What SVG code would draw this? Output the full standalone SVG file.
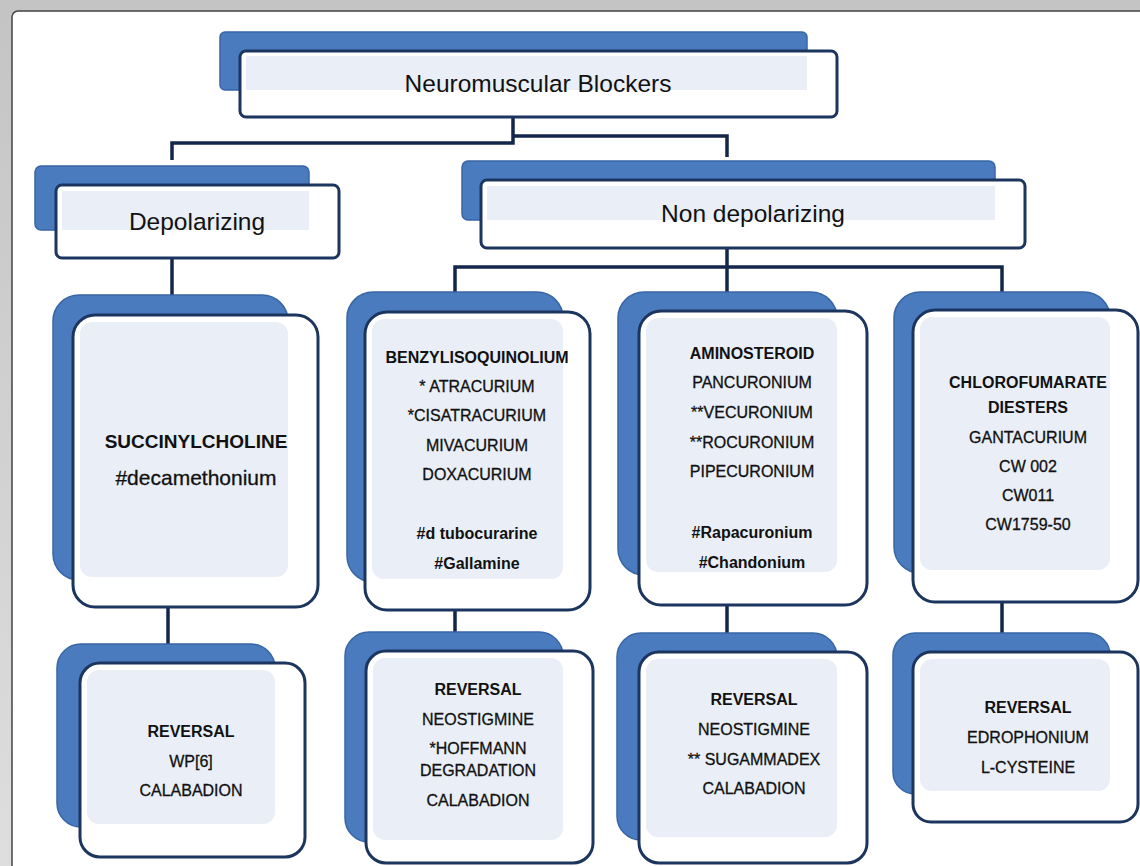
<svg xmlns="http://www.w3.org/2000/svg" width="1140" height="866" viewBox="0 0 1140 866">
<defs>
<linearGradient id="bg" x1="0" y1="0" x2="0" y2="1">
<stop offset="0" stop-color="#c4c4c4"/><stop offset="1" stop-color="#dedede"/>
</linearGradient>
<style>
.back{fill:#4a7bbf;stroke:#3866a5;stroke-width:1.5}
.front{fill:#ffffff;stroke:#1c355e;stroke-width:3}
.tint{fill:#e9eef7}
.conn{stroke:#14264a;stroke-width:3.5;fill:none}
.big{font-family:"Liberation Sans",Arial,sans-serif;font-size:24.5px;fill:#111;text-anchor:middle}
.h{font-family:"Liberation Sans",Arial,sans-serif;font-size:16px;font-weight:bold;fill:#111;text-anchor:middle}
.t{font-family:"Liberation Sans",Arial,sans-serif;font-size:16px;fill:#111;stroke:#111;stroke-width:0.3;text-anchor:middle}
</style>
</defs>
<rect x="0" y="0" width="1140" height="866" fill="url(#bg)"/>
<rect x="12" y="11" width="1160" height="880" rx="6" fill="#ffffff" stroke="#444" stroke-width="1.5"/>

<g id="connectors">
<path class="conn" d="M513 117 V143 H172 V160"/>
<path class="conn" d="M513 136 H727 V157"/>
<path class="conn" d="M172 258 V296"/>
<path class="conn" d="M727 248 V292"/>
<path class="conn" d="M455 292 V267 H1002 V292"/>
<path class="conn" d="M168 607 V645"/>
<path class="conn" d="M455 610 V633"/>
<path class="conn" d="M727 605 V634"/>
<path class="conn" d="M1002 602 V634"/>
</g>

<g id="root">
<rect class="back" x="220" y="32" width="587" height="58" rx="5"/>
<rect class="front" x="240" y="51" width="597" height="66" rx="6"/>
<rect class="tint" x="246" y="56" width="561" height="34"/>
<text class="big" x="538" y="92">Neuromuscular Blockers</text>
</g>

<g id="depolarizing">
<rect class="back" x="35" y="166" width="274" height="64" rx="6"/>
<rect class="front" x="56" y="185" width="283" height="73" rx="6"/>
<rect class="tint" x="62" y="191" width="247" height="39"/>
<text class="big" x="197" y="230">Depolarizing</text>
</g>

<g id="nondepolarizing">
<rect class="back" x="462" y="161" width="533" height="59" rx="6"/>
<rect class="front" x="481" y="180" width="544" height="68" rx="6"/>
<rect class="tint" x="487" y="186" width="508" height="34"/>
<text class="big" x="753" y="222">Non depolarizing</text>
</g>

<g id="succinylcholine">
<rect class="back" x="53" y="295" width="235" height="285" rx="26"/>
<rect class="front" x="73" y="315" width="245" height="292" rx="22"/>
<rect class="tint" x="80" y="322" width="208" height="255" rx="12"/>
<text class="h" x="196" y="448" style="font-size:19px">SUCCINYLCHOLINE</text>
<text class="t" x="196" y="485" style="font-size:21px">#decamethonium</text>
</g>

<g id="benzylisoquinolium">
<rect class="back" x="347" y="292" width="216" height="290" rx="26"/>
<rect class="front" x="365" y="312" width="225" height="298" rx="22"/>
<rect class="tint" x="372" y="319" width="191" height="260" rx="12"/>
<text class="h" x="477" y="363">BENZYLISOQUINOLIUM</text>
<text class="t" x="477" y="392">* ATRACURIUM</text>
<text class="t" x="477" y="421">*CISATRACURIUM</text>
<text class="t" x="477" y="451">MIVACURIUM</text>
<text class="t" x="477" y="480">DOXACURIUM</text>
<text class="h" x="477" y="539">#d tubocurarine</text>
<text class="h" x="477" y="569">#Gallamine</text>
</g>

<g id="aminosteroid">
<rect class="back" x="618" y="292" width="219" height="283" rx="26"/>
<rect class="front" x="639" y="311" width="228" height="294" rx="22"/>
<rect class="tint" x="646" y="318" width="191" height="254" rx="12"/>
<text class="h" x="752" y="359">AMINOSTEROID</text>
<text class="t" x="752" y="388">PANCURONIUM</text>
<text class="t" x="752" y="418">**VECURONIUM</text>
<text class="t" x="752" y="448">**ROCURONIUM</text>
<text class="t" x="752" y="477">PIPECURONIUM</text>
<text class="h" x="752" y="538">#Rapacuronium</text>
<text class="h" x="752" y="568">#Chandonium</text>
</g>

<g id="chlorofumarate">
<rect class="back" x="894" y="292" width="216" height="281" rx="26"/>
<rect class="front" x="913" y="310" width="225" height="292" rx="22"/>
<rect class="tint" x="920" y="317" width="190" height="253" rx="12"/>
<text class="h" x="1028" y="388">CHLOROFUMARATE</text>
<text class="h" x="1028" y="413">DIESTERS</text>
<text class="t" x="1028" y="443">GANTACURIUM</text>
<text class="t" x="1028" y="472">CW 002</text>
<text class="t" x="1028" y="501">CW011</text>
<text class="t" x="1028" y="530">CW1759-50</text>
</g>

<g id="reversal-depolarizing">
<rect class="back" x="57" y="644" width="218" height="183" rx="24"/>
<rect class="front" x="80" y="663" width="225" height="194" rx="20"/>
<rect class="tint" x="87" y="670" width="188" height="154" rx="12"/>
<text class="h" x="191" y="737">REVERSAL</text>
<text class="t" x="191" y="767">WP[6]</text>
<text class="t" x="191" y="796">CALABADION</text>
</g>

<g id="reversal-benzylisoquinolium">
<rect class="back" x="345" y="632" width="218" height="210" rx="24"/>
<rect class="front" x="366" y="651" width="227" height="212" rx="20"/>
<rect class="tint" x="373" y="658" width="190" height="182" rx="12"/>
<text class="h" x="478" y="695">REVERSAL</text>
<text class="t" x="478" y="725">NEOSTIGMINE</text>
<text class="t" x="478" y="754">*HOFFMANN</text>
<text class="t" x="478" y="776">DEGRADATION</text>
<text class="t" x="478" y="806">CALABADION</text>
</g>

<g id="reversal-aminosteroid">
<rect class="back" x="617" y="633" width="220" height="207" rx="24"/>
<rect class="front" x="639" y="652" width="228" height="211" rx="20"/>
<rect class="tint" x="646" y="659" width="191" height="178" rx="12"/>
<text class="h" x="754" y="705">REVERSAL</text>
<text class="t" x="754" y="735">NEOSTIGMINE</text>
<text class="t" x="754" y="765">** SUGAMMADEX</text>
<text class="t" x="754" y="794">CALABADION</text>
</g>

<g id="reversal-chlorofumarate">
<rect class="back" x="893" y="633" width="217" height="161" rx="22"/>
<rect class="front" x="913" y="652" width="225" height="170" rx="18"/>
<rect class="tint" x="920" y="659" width="190" height="132" rx="12"/>
<text class="h" x="1028" y="713">REVERSAL</text>
<text class="t" x="1028" y="743">EDROPHONIUM</text>
<text class="t" x="1028" y="773">L-CYSTEINE</text>
</g>
</svg>
